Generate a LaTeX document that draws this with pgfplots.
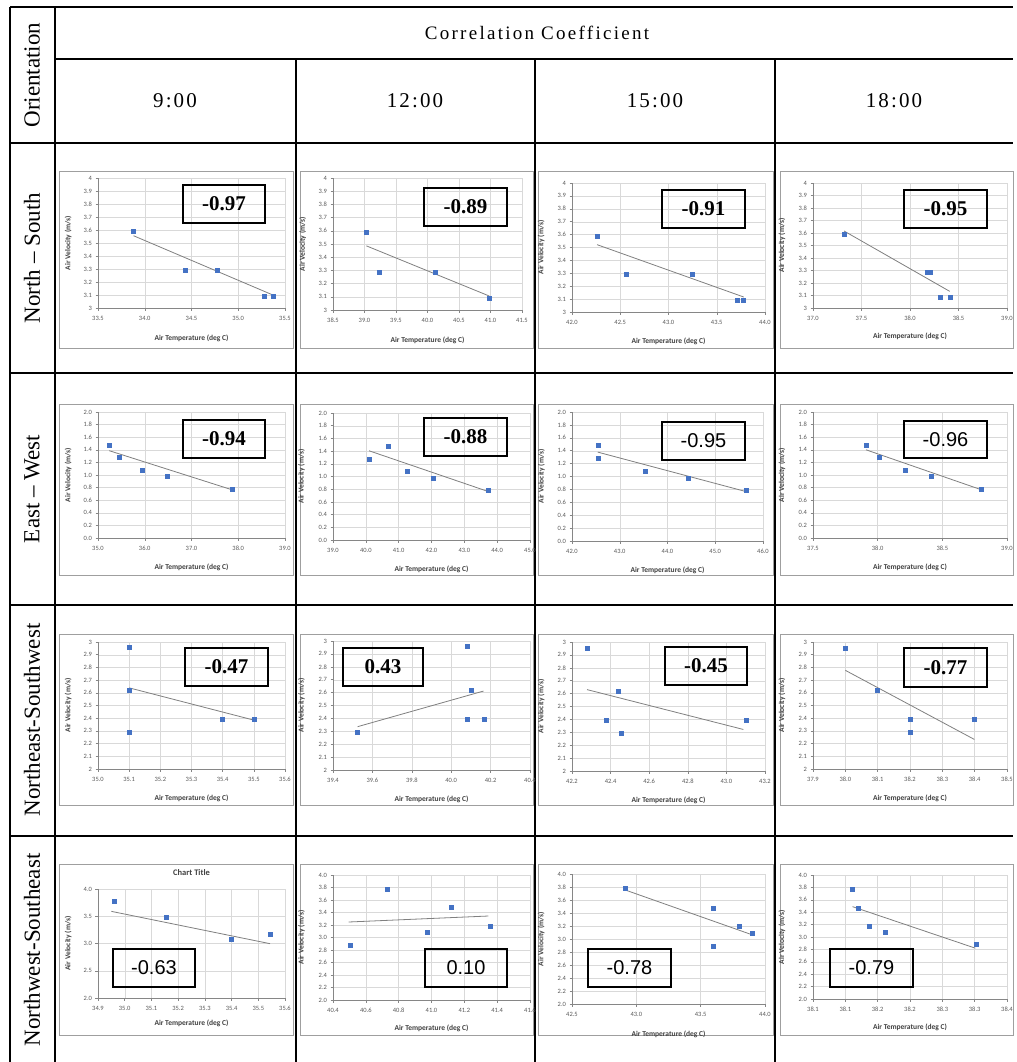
\documentclass[border=0pt]{standalone}
\usepackage{fontspec}
\setmainfont{Liberation Serif}
\newfontfamily\calibri{Carlito}
\newfontfamily\arialf{Liberation Sans}
\newfontfamily\spaced[LetterSpace=12]{Liberation Serif}
\newfontfamily\spacedb[LetterSpace=10]{Liberation Serif}
\usepackage{pgfplots}
\pgfplotsset{compat=1.18}
\definecolor{mblue}{RGB}{68,114,196}
\definecolor{tgray}{RGB}{128,128,128}
\definecolor{axg}{RGB}{134,134,134}
\definecolor{gridg}{RGB}{217,217,217}
\definecolor{lblg}{RGB}{89,89,89}
\definecolor{labg}{RGB}{64,64,64}
\pgfplotsset{
 exc/.style={scale only axis, anchor=south west, axis lines=left,
   axis line style={-,draw=axg,line width=0.6pt},
   grid=major, major grid style={draw=gridg,line width=0.4pt},
   tick align=outside, major tick length=2.5pt,
   tick style={draw=axg,line width=0.5pt},
   tick label style={font=\calibri\fontsize{6.5}{7}\selectfont, text=lblg},
   /pgf/number format/assume math mode=true,
   xticklabel style={/pgf/number format/fixed,/pgf/number format/fixed zerofill,/pgf/number format/precision=1, yshift=-2pt},
   xlabel={Air Temperature (deg C)}, ylabel={Air Velocity (m/s)},
   label style={font=\calibri\bfseries\fontsize{7.5}{8}\selectfont, text=labg},
   xlabel style={at={(axis description cs:0.5,-0.23)},anchor=center},
   ylabel style={at={(axis description cs:-0.16,0.5)},anchor=center}},
 yfix/.style={yticklabel style={/pgf/number format/fixed,/pgf/number format/fixed zerofill,/pgf/number format/precision=1}},
 pts/.style={only marks, mark=square*, mark size=2pt, mark options={fill=mblue,draw=mblue}},
 tl/.style={no marks, draw=tgray, line width=0.8pt},
 yA/.style={ymin=3,ymax=4,ytick={3,3.1,3.2,3.3,3.4,3.5,3.6,3.7,3.8,3.9,4}},
 yB/.style={yfix,ymin=0,ymax=2,ytick={0,0.2,0.4,0.6,0.8,1,1.2,1.4,1.6,1.8,2}},
 yC/.style={ymin=2,ymax=3,ytick={2,2.1,2.2,2.3,2.4,2.5,2.6,2.7,2.8,2.9,3}},
 yD/.style={yfix,ymin=2,ymax=4,ytick={2,2.2,2.4,2.6,2.8,3,3.2,3.4,3.6,3.8,4}},
}
\newcommand\cbox[6]{\draw[line width=1.6pt] (#1,#2) rectangle (#3,#4); \node[font=#5] at ({(#1+#3)/2},{(#2+#4)/2}) {#6};}
\newcommand\sfb{\bfseries\fontsize{21}{24}\selectfont}
\newcommand\snum{\arialf\fontsize{20}{22}\selectfont}
\begin{document}
\begin{tikzpicture}
\begin{scope}[x=1pt,y=-1pt]
\path[use as bounding box] (0,0) rectangle (1013,1062);
\fill[white] (0,0) rectangle (1013,1062);
% chart frames
\foreach \xa/\xb in {59/293,300/533,538/773,780/1013}{
  \foreach \ya/\yb in {171/348,404/575,634/805,864/1035}{
    \draw[gray!75,line width=0.8pt] (\xa,\ya) rectangle (\xb,\yb);}}
% table lines
\begin{scope}[line width=1.5pt]
\draw (10,7) -- (1013,7);
\draw (10,7) -- (10,1062);
\draw (55,7) -- (55,1062);
\draw (55,59) -- (1013,59);
\draw (296,59) -- (296,1062);
\draw (535,59) -- (535,1062);
\draw (775,59) -- (775,1062);
\draw (10,143) -- (1013,143);
\draw (10,373) -- (1013,373);
\draw (10,605) -- (1013,605);
\draw (10,836) -- (1013,836);
\end{scope}
% header texts
\node[font=\spaced\fontsize{19}{22}\selectfont] at (537,33) {Correlation Coefficient};
\node[font=\spacedb\fontsize{21}{24}\selectfont] at (175,101) {9:00};
\node[font=\spacedb\fontsize{21}{24}\selectfont] at (415,101) {12:00};
\node[font=\spacedb\fontsize{21}{24}\selectfont] at (655,101) {15:00};
\node[font=\spacedb\fontsize{21}{24}\selectfont] at (894,101) {18:00};
\node[rotate=90,font=\fontsize{23}{26}\selectfont] at (32,75) {Orientation};
\node[rotate=90,font=\fontsize{23}{26}\selectfont] at (32,258) {North – South};
\node[rotate=90,font=\fontsize{23}{26}\selectfont] at (32,489) {East – West};
\node[rotate=90,font=\fontsize{23}{26}\selectfont] at (32,720) {Northeast-Southwest};
\node[rotate=90,font=\fontsize{23}{26}\selectfont] at (32,950) {Northwest-Southeast};
\end{scope}

% ---------- Row 1: North-South ----------
\begin{axis}[exc,yA,at={(98pt,-308pt)},width=187pt,height=130pt,xmin=33.5,xmax=35.5,xtick={33.5,34,34.5,35,35.5}]
\addplot[pts] coordinates {(33.88,3.59) (34.43,3.29) (34.78,3.29) (35.28,3.09) (35.37,3.09)};
\addplot[tl] coordinates {(33.88,3.556) (35.38,3.097)};
\end{axis}
\begin{axis}[exc,yA,at={(333pt,-310pt)},width=189pt,height=132pt,xmin=38.5,xmax=41.5,xtick={38.5,39,39.5,40,40.5,41,41.5}]
\addplot[pts] coordinates {(39.03,3.59) (39.24,3.29) (40.13,3.29) (40.98,3.09)};
\addplot[tl] coordinates {(39.03,3.486) (40.98,3.106)};
\end{axis}
\begin{axis}[exc,yA,at={(572pt,-312pt)},width=193pt,height=129pt,xmin=42,xmax=44,xtick={42,42.5,43,43.5,44}]
\addplot[pts] coordinates {(42.26,3.59) (42.56,3.29) (43.25,3.29) (43.71,3.09) (43.77,3.09)};
\addplot[tl] coordinates {(42.26,3.522) (43.78,3.116)};
\end{axis}
\begin{axis}[exc,yA,at={(813pt,-308pt)},width=194pt,height=125pt,xmin=37,xmax=39,xtick={37,37.5,38,38.5,39}]
\addplot[pts] coordinates {(37.32,3.59) (38.18,3.29) (38.21,3.29) (38.31,3.09) (38.41,3.09)};
\addplot[tl] coordinates {(37.32,3.616) (38.41,3.133)};
\end{axis}

% ---------- Row 2: East-West ----------
\begin{axis}[exc,yB,at={(98pt,-538pt)},width=187pt,height=126pt,xmin=35,xmax=39,xtick={35,36,37,38,39}]
\addplot[pts] coordinates {(35.24,1.48) (35.46,1.28) (35.95,1.08) (36.48,0.98) (37.86,0.78)};
\addplot[tl] coordinates {(35.24,1.386) (37.86,0.767)};
\end{axis}
\begin{axis}[exc,yB,at={(333pt,-540pt)},width=197pt,height=127pt,xmin=39,xmax=45,xtick={39,40,41,42,43,44,45}]
\addplot[pts] coordinates {(40.10,1.28) (40.69,1.48) (41.27,1.08) (42.04,0.98) (43.73,0.78)};
\addplot[tl] coordinates {(40.10,1.405) (43.73,0.763)};
\end{axis}
\begin{axis}[exc,yB,at={(572pt,-541pt)},width=191pt,height=129pt,xmin=42,xmax=46,xtick={42,43,44,45,46}]
\addplot[pts] coordinates {(42.54,1.48) (42.54,1.28) (43.53,1.08) (44.43,0.98) (45.64,0.78)};
\addplot[tl] coordinates {(42.54,1.378) (45.64,0.767)};
\end{axis}
\begin{axis}[exc,yB,at={(813pt,-538pt)},width=194pt,height=126pt,xmin=37.5,xmax=39,xtick={37.5,38,38.5,39}]
\addplot[pts] coordinates {(37.91,1.48) (38.01,1.28) (38.21,1.08) (38.41,0.98) (38.80,0.78)};
\addplot[tl] coordinates {(37.91,1.40) (38.80,0.767)};
\end{axis}

% ---------- Row 3: Northeast-Southwest ----------
\begin{axis}[exc,yC,at={(98pt,-769pt)},width=187pt,height=127pt,xmin=35,xmax=35.6,xtick={35,35.1,35.2,35.3,35.4,35.5,35.6}]
\addplot[pts] coordinates {(35.1,2.96) (35.1,2.62) (35.1,2.29) (35.4,2.39) (35.5,2.39)};
\addplot[tl] coordinates {(35.1,2.639) (35.5,2.385)};
\end{axis}
\begin{axis}[exc,yC,at={(333pt,-770pt)},width=197pt,height=129pt,xmin=39.4,xmax=40.4,xtick={39.4,39.6,39.8,40,40.2,40.4}]
\addplot[pts] coordinates {(39.525,2.29) (40.08,2.96) (40.08,2.39) (40.10,2.62) (40.17,2.39)};
\addplot[tl] coordinates {(39.525,2.336) (40.164,2.612)};
\end{axis}
\begin{axis}[exc,yC,at={(572pt,-771pt)},width=193pt,height=129pt,xmin=42.2,xmax=43.2,xtick={42.2,42.4,42.6,42.8,43,43.2}]
\addplot[pts] coordinates {(42.278,2.955) (42.378,2.39) (42.441,2.62) (42.453,2.29) (43.10,2.39)};
\addplot[tl] coordinates {(42.278,2.631) (43.088,2.322)};
\end{axis}
\begin{axis}[exc,yC,at={(813pt,-769pt)},width=194pt,height=127pt,xmin=37.9,xmax=38.5,xtick={37.9,38,38.1,38.2,38.3,38.4,38.5}]
\addplot[pts] coordinates {(38.0,2.95) (38.1,2.62) (38.2,2.39) (38.2,2.29) (38.4,2.39)};
\addplot[tl] coordinates {(38.0,2.777) (38.399,2.233)};
\end{axis}

% ---------- Row 4: Northwest-Southeast ----------
\begin{axis}[exc,yfix,at={(98pt,-998pt)},width=187pt,height=109pt,xmin=34.9,xmax=35.6,xtick={34.9,35,35.1,35.2,35.3,35.4,35.5,35.6},ymin=2,ymax=4,ytick={2,2.5,3,3.5,4},
  title={Chart Title},title style={font=\calibri\bfseries\fontsize{8.5}{9}\selectfont,text=labg,at={(axis description cs:0.5,1)},anchor=center,yshift=10pt}]
\addplot[pts] coordinates {(34.96,3.78) (35.156,3.48) (35.40,3.08) (35.546,3.18)};
\addplot[tl] coordinates {(34.95,3.59) (35.544,2.997)};
\end{axis}
\begin{axis}[exc,yD,at={(333pt,-1000pt)},width=197pt,height=125pt,xmin=40.4,xmax=41.6,xtick={40.4,40.6,40.8,41,41.2,41.4,41.6}]
\addplot[pts] coordinates {(40.505,2.88) (40.733,3.78) (40.972,3.08) (41.118,3.48) (41.357,3.18)};
\addplot[tl] coordinates {(40.495,3.248) (41.347,3.344)};
\end{axis}
\begin{axis}[exc,yD,at={(572pt,-1004pt)},width=193pt,height=130pt,xmin=42.5,xmax=44,xtick={42.5,43,43.5,44}]
\addplot[pts] coordinates {(42.914,3.78) (43.60,3.48) (43.60,2.89) (43.80,3.19) (43.904,3.09)};
\addplot[tl] coordinates {(42.914,3.754) (43.904,3.062)};
\end{axis}
\begin{axis}[exc,yD,at={(813pt,-999pt)},width=194pt,height=124pt,xmin=38.05,xmax=38.35,xtick={38.05,38.1,38.15,38.2,38.25,38.3,38.35},xticklabels={38.1,38.1,38.2,38.2,38.3,38.3,38.4}]
\addplot[pts] coordinates {(38.111,3.77) (38.12,3.47) (38.137,3.17) (38.161,3.08) (38.302,2.88)};
\addplot[tl] coordinates {(38.111,3.49) (38.301,2.82)};
\end{axis}

% ---------- correlation boxes ----------
\begin{scope}[x=1pt,y=-1pt]
\cbox{183}{185}{265}{223}{\sfb}{-0.97}
\cbox{424}{188}{507}{226}{\sfb}{-0.89}
\cbox{662}{190}{745}{228}{\sfb}{-0.91}
\cbox{904}{190}{987}{228}{\sfb}{-0.95}
\cbox{183}{420}{265}{458}{\sfb}{-0.94}
\cbox{424}{418}{507}{456}{\sfb}{-0.88}
\cbox{662}{422}{745}{460}{\snum}{-0.95}
\cbox{904}{421}{987}{458}{\snum}{-0.96}
\cbox{185}{648}{268}{686}{\sfb}{-0.47}
\cbox{343}{648}{423}{686}{\sfb}{0.43}
\cbox{665}{647}{747}{685}{\sfb}{-0.45}
\cbox{904}{648}{987}{687}{\sfb}{-0.77}
\cbox{113}{949}{195}{987}{\snum}{-0.63}
\cbox{425}{949}{507}{987}{\snum}{0.10}
\cbox{588}{949}{671}{987}{\snum}{-0.78}
\cbox{830}{949}{913}{987}{\snum}{-0.79}
\end{scope}
\end{tikzpicture}
\end{document}
